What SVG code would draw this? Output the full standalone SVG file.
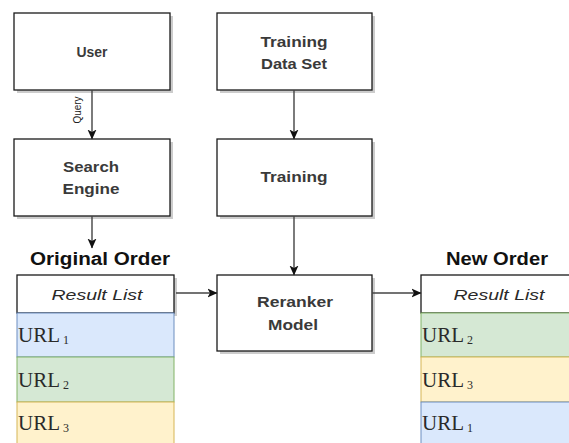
<svg xmlns="http://www.w3.org/2000/svg" width="569" height="443" viewBox="0 0 569 443">
  <style>
    .box { fill: #ffffff; stroke: #1a1a1a; stroke-width: 1.3; }
    .shadow { fill: #000000; opacity: 0.2; }
    .lbl { font-family: "Liberation Sans", Arial, sans-serif; font-size: 15px; font-weight: bold; fill: #3a3a3a; text-anchor: middle; }
    .title { font-family: "Liberation Sans", Arial, sans-serif; font-size: 18px; font-weight: bold; fill: #111111; text-anchor: middle; }
    .hdr { font-family: "Liberation Sans", Arial, sans-serif; font-size: 15px; font-style: italic; fill: #2a2a2a; text-anchor: middle; }
    .url { font-family: "Liberation Serif", "Times New Roman", serif; font-size: 21px; fill: #2a2a2a; }
    .sub { font-size: 12px; }
    .edge { stroke: #444444; stroke-width: 1.4; fill: none; marker-end: url(#arrow); }
    .blue { fill: #dae8fc; stroke: #6c8ebf; }
    .green { fill: #d5e8d4; stroke: #82b366; }
    .yellow { fill: #fff2cc; stroke: #d6b656; }
  </style>
  <defs>
    <marker id="arrow" viewBox="0 0 10 10" refX="9.5" refY="5" markerWidth="10" markerHeight="10" markerUnits="userSpaceOnUse" orient="auto">
      <path d="M0,0.5 L10,5 L0,9.5 L2.5,5 Z" fill="#111111"/>
    </marker>
  </defs>

  <rect width="569" height="443" fill="#ffffff"/>

  <g id="user">
    <rect class="shadow" x="17" y="16" width="156" height="77"/>
    <rect class="box" x="14" y="13" width="156" height="77"/>
    <text class="lbl" x="92" y="57" textLength="31" lengthAdjust="spacingAndGlyphs">User</text>
  </g>

  <g id="search-engine">
    <rect class="shadow" x="17" y="142" width="156" height="77"/>
    <rect class="box" x="14" y="139" width="156" height="77"/>
    <text class="lbl" x="91" y="172" textLength="56" lengthAdjust="spacingAndGlyphs">Search</text>
    <text class="lbl" x="91" y="194" textLength="57" lengthAdjust="spacingAndGlyphs">Engine</text>
  </g>

  <g id="training-dataset">
    <rect class="shadow" x="220" y="16" width="155" height="77"/>
    <rect class="box" x="217" y="13" width="155" height="77"/>
    <text class="lbl" x="294" y="47" textLength="67" lengthAdjust="spacingAndGlyphs">Training</text>
    <text class="lbl" x="294" y="69" textLength="66" lengthAdjust="spacingAndGlyphs">Data Set</text>
  </g>

  <g id="training">
    <rect class="shadow" x="220" y="142" width="155" height="77"/>
    <rect class="box" x="217" y="139" width="155" height="77"/>
    <text class="lbl" x="294" y="182" textLength="67" lengthAdjust="spacingAndGlyphs">Training</text>
  </g>

  <g id="reranker">
    <rect class="shadow" x="220" y="278" width="155" height="76"/>
    <rect class="box" x="217" y="275" width="155" height="76"/>
    <text class="lbl" x="295" y="307" textLength="76" lengthAdjust="spacingAndGlyphs">Reranker</text>
    <text class="lbl" x="293" y="330" textLength="50" lengthAdjust="spacingAndGlyphs">Model</text>
  </g>

  <g id="original-list">
    <text class="title" x="100" y="265" textLength="140" lengthAdjust="spacingAndGlyphs">Original Order</text>
    <rect class="shadow" x="20" y="278" width="157" height="38"/>
    <rect class="box" x="17" y="275" width="157" height="38"/>
    <text class="hdr" x="97" y="300" textLength="91" lengthAdjust="spacingAndGlyphs">Result List</text>
    <rect class="blue" x="17" y="313" width="157" height="44"/>
    <text class="url" x="18" y="342">URL<tspan class="sub" dx="3" dy="2">1</tspan></text>
    <rect class="green" x="17" y="357" width="157" height="45"/>
    <text class="url" x="18" y="387">URL<tspan class="sub" dx="3" dy="2">2</tspan></text>
    <rect class="yellow" x="17" y="402" width="157" height="45"/>
    <text class="url" x="18" y="430">URL<tspan class="sub" dx="3" dy="2">3</tspan></text>
  </g>

  <g id="new-list">
    <text class="title" x="497" y="265" textLength="102" lengthAdjust="spacingAndGlyphs">New Order</text>
    <rect class="box" x="421" y="275" width="160" height="38"/>
    <text class="hdr" x="499" y="300" textLength="91" lengthAdjust="spacingAndGlyphs">Result List</text>
    <rect class="green" x="421" y="313" width="160" height="44"/>
    <text class="url" x="422" y="342">URL<tspan class="sub" dx="3" dy="2">2</tspan></text>
    <rect class="yellow" x="421" y="357" width="160" height="45"/>
    <text class="url" x="422" y="387">URL<tspan class="sub" dx="3" dy="2">3</tspan></text>
    <rect class="blue" x="421" y="402" width="160" height="45"/>
    <text class="url" x="422" y="430">URL<tspan class="sub" dx="3" dy="2">1</tspan></text>
  </g>

  <g id="connectors">
    <line class="edge" x1="92" y1="90" x2="92" y2="139"/>
    <text font-family="Liberation Sans, Arial, sans-serif" font-size="10" fill="#222222" text-anchor="middle" transform="translate(80.5,110) rotate(-90)">Query</text>
    <line class="edge" x1="92" y1="216" x2="92" y2="248"/>
    <line class="edge" x1="176" y1="293" x2="217" y2="293"/>
    <line class="edge" x1="294" y1="90" x2="294" y2="139"/>
    <line class="edge" x1="294" y1="216" x2="294" y2="275"/>
    <line class="edge" x1="372" y1="293" x2="421" y2="293"/>
  </g>
</svg>
